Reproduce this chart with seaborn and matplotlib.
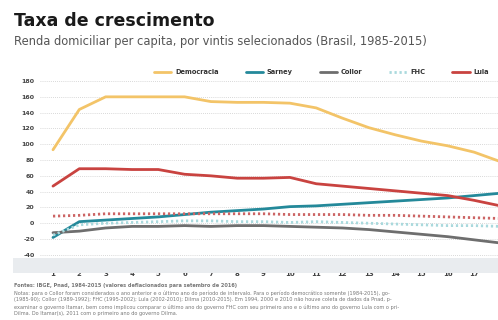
import matplotlib
matplotlib.use("Agg")
import matplotlib.pyplot as plt
from matplotlib.patches import Rectangle
import seaborn as sns
import pandas as pd

# ---- data ----
vintis = list(range(1, 19))
democracia = [93, 144, 160, 160, 160, 160, 154, 153, 153, 152, 146, 133, 121, 112, 104, 98, 90, 78]
sarney = [-18, 2, 4, 6, 8, 11, 14, 16, 18, 21, 22, 24, 26, 28, 30, 32, 35, 38]
collor = [-12, -10, -6, -4, -4, -3, -4, -3, -3, -4, -5, -6, -8, -11, -14, -17, -21, -25]
fhc = [-15, -2, 0, 1, 2, 3, 3, 2, 2, 1, 2, 1, 0, -1, -2, -3, -3, -4]
lula = [47, 69, 69, 68, 68, 62, 60, 57, 57, 58, 50, 47, 44, 41, 38, 35, 29, 22]
dilma = [9, 10, 12, 12, 12, 12, 12, 12, 12, 11, 11, 11, 10, 10, 9, 8, 7, 6]
series_names = ["Democracia", "Sarney", "Collor", "FHC", "Lula", "Dilma"]
legend_names = ["Democracia", "Sarney", "Collor", "FHC", "Lula"]
yticks = [-40, -20, 0, 20, 40, 60, 80, 100, 120, 140, 160, 180]
xticks = list(range(1, 18))

title = "Taxa de crescimento"
subtitle = "Renda domiciliar per capita, por vintis selecionados (Brasil, 1985-2015)"
notes = [
    "Fontes: IBGE, Pnad, 1984-2015 (valores deflacionados para setembro de 2016)",
    "Notas: para o Collor foram considerados o ano anterior e o último ano do período de intervalo. Para o período democrático somente (1984-2015), go-",
    "(1985-90); Collor (1989-1992); FHC (1995-2002); Lula (2002-2010); Dilma (2010-2015). Em 1994, 2000 e 2010 não houve coleta de dados da Pnad, p-",
    "examinar o governo Itamar, bem como implicou comparar o último ano do governo FHC com seu primeiro ano e o último ano do governo Lula com o pri-",
    "Dilma. Do Itamar(s), 2011 com o primeiro ano do governo Dilma.",
]

df = pd.DataFrame({
    "vintil": vintis * 6,
    "valor": democracia + sarney + collor + fhc + lula + dilma,
    "serie": sum([[n] * len(vintis) for n in series_names], []),
})

palette = {
    "Democracia": "#F3C468",
    "Sarney": "#24899A",
    "Collor": "#6E6E6E",
    "FHC": "#A9D9DD",
    "Lula": "#C94340",
    "Dilma": "#CC6464",
}
dashes = {
    "Democracia": "",
    "Sarney": "",
    "Collor": "",
    "FHC": (0.8, 1.0),
    "Lula": "",
    "Dilma": (0.8, 1.0),
}

sns.set_style("white")
plt.rcParams["font.family"] = ["DejaVu Sans"]

fig = plt.figure(figsize=(4.98, 3.2), dpi=100)
fig.patch.set_facecolor("white")

# grey band behind x tick labels
fig.patches.append(Rectangle((13 / 498, 1 - 273 / 320), 1, 15 / 320,
                             transform=fig.transFigure, facecolor="#E9ECEF",
                             edgecolor="none", zorder=0))

ax = fig.add_axes([40 / 498, 1 - 258 / 320, 1 - 40 / 498, (258 - 76.3) / 320])
ax.set_facecolor("none")

sns.lineplot(data=df, x="vintil", y="valor", hue="serie", style="serie",
             palette=palette, dashes=dashes, linewidth=2.0, ax=ax,
             hue_order=series_names, style_order=series_names)

ax.set_xlim(0.506, 17.91)
ax.set_ylim(-44, 186)
ax.set_yticks(yticks)
ax.set_xticks(xticks)
ax.set_yticklabels([str(v) for v in yticks], fontsize=4.5, fontweight="bold", color="#444444")
ax.set_xticklabels([str(v) for v in xticks], fontsize=5, fontweight="bold", color="#444444")
ax.tick_params(axis="y", length=0, pad=4)
ax.tick_params(axis="x", length=0, pad=9)
ax.set_xlabel("")
ax.set_ylabel("")
for s in ax.spines.values():
    s.set_visible(False)
ax.grid(axis="y", linestyle=(0, (1, 1.5)), color="#CCCCCC", linewidth=0.6)
ax.grid(axis="x", visible=False)
ax.set_axisbelow(True)

handles, labels = ax.get_legend_handles_labels()
ax.get_legend().remove()
hmap = dict(zip(labels, handles))
leg = fig.legend([hmap[n] for n in legend_names], legend_names, loc="center left",
                 bbox_to_anchor=(148 / 498, 1 - 72 / 320), ncol=5, frameon=False,
                 prop={"size": 4.8, "weight": "bold"}, handlelength=2.6,
                 handletextpad=0.6, columnspacing=4.0)
for t in leg.get_texts():
    t.set_color("#333333")

fig.text(14 / 498, 1 - 21 / 320, title, fontsize=12.5, fontweight="heavy",
         color="#1a1a1a", va="center", ha="left")
fig.text(14 / 498, 1 - 42 / 320, subtitle, fontsize=8.3, color="#555555",
         va="center", ha="left")
for i, line in enumerate(notes):
    fig.text(14 / 498, 1 - (286 + 7 * i) / 320, line, fontsize=3.6,
             color="#777777", va="center", ha="left",
             fontweight="bold" if i == 0 else "normal")

fig.savefig("out.png", dpi=100)
